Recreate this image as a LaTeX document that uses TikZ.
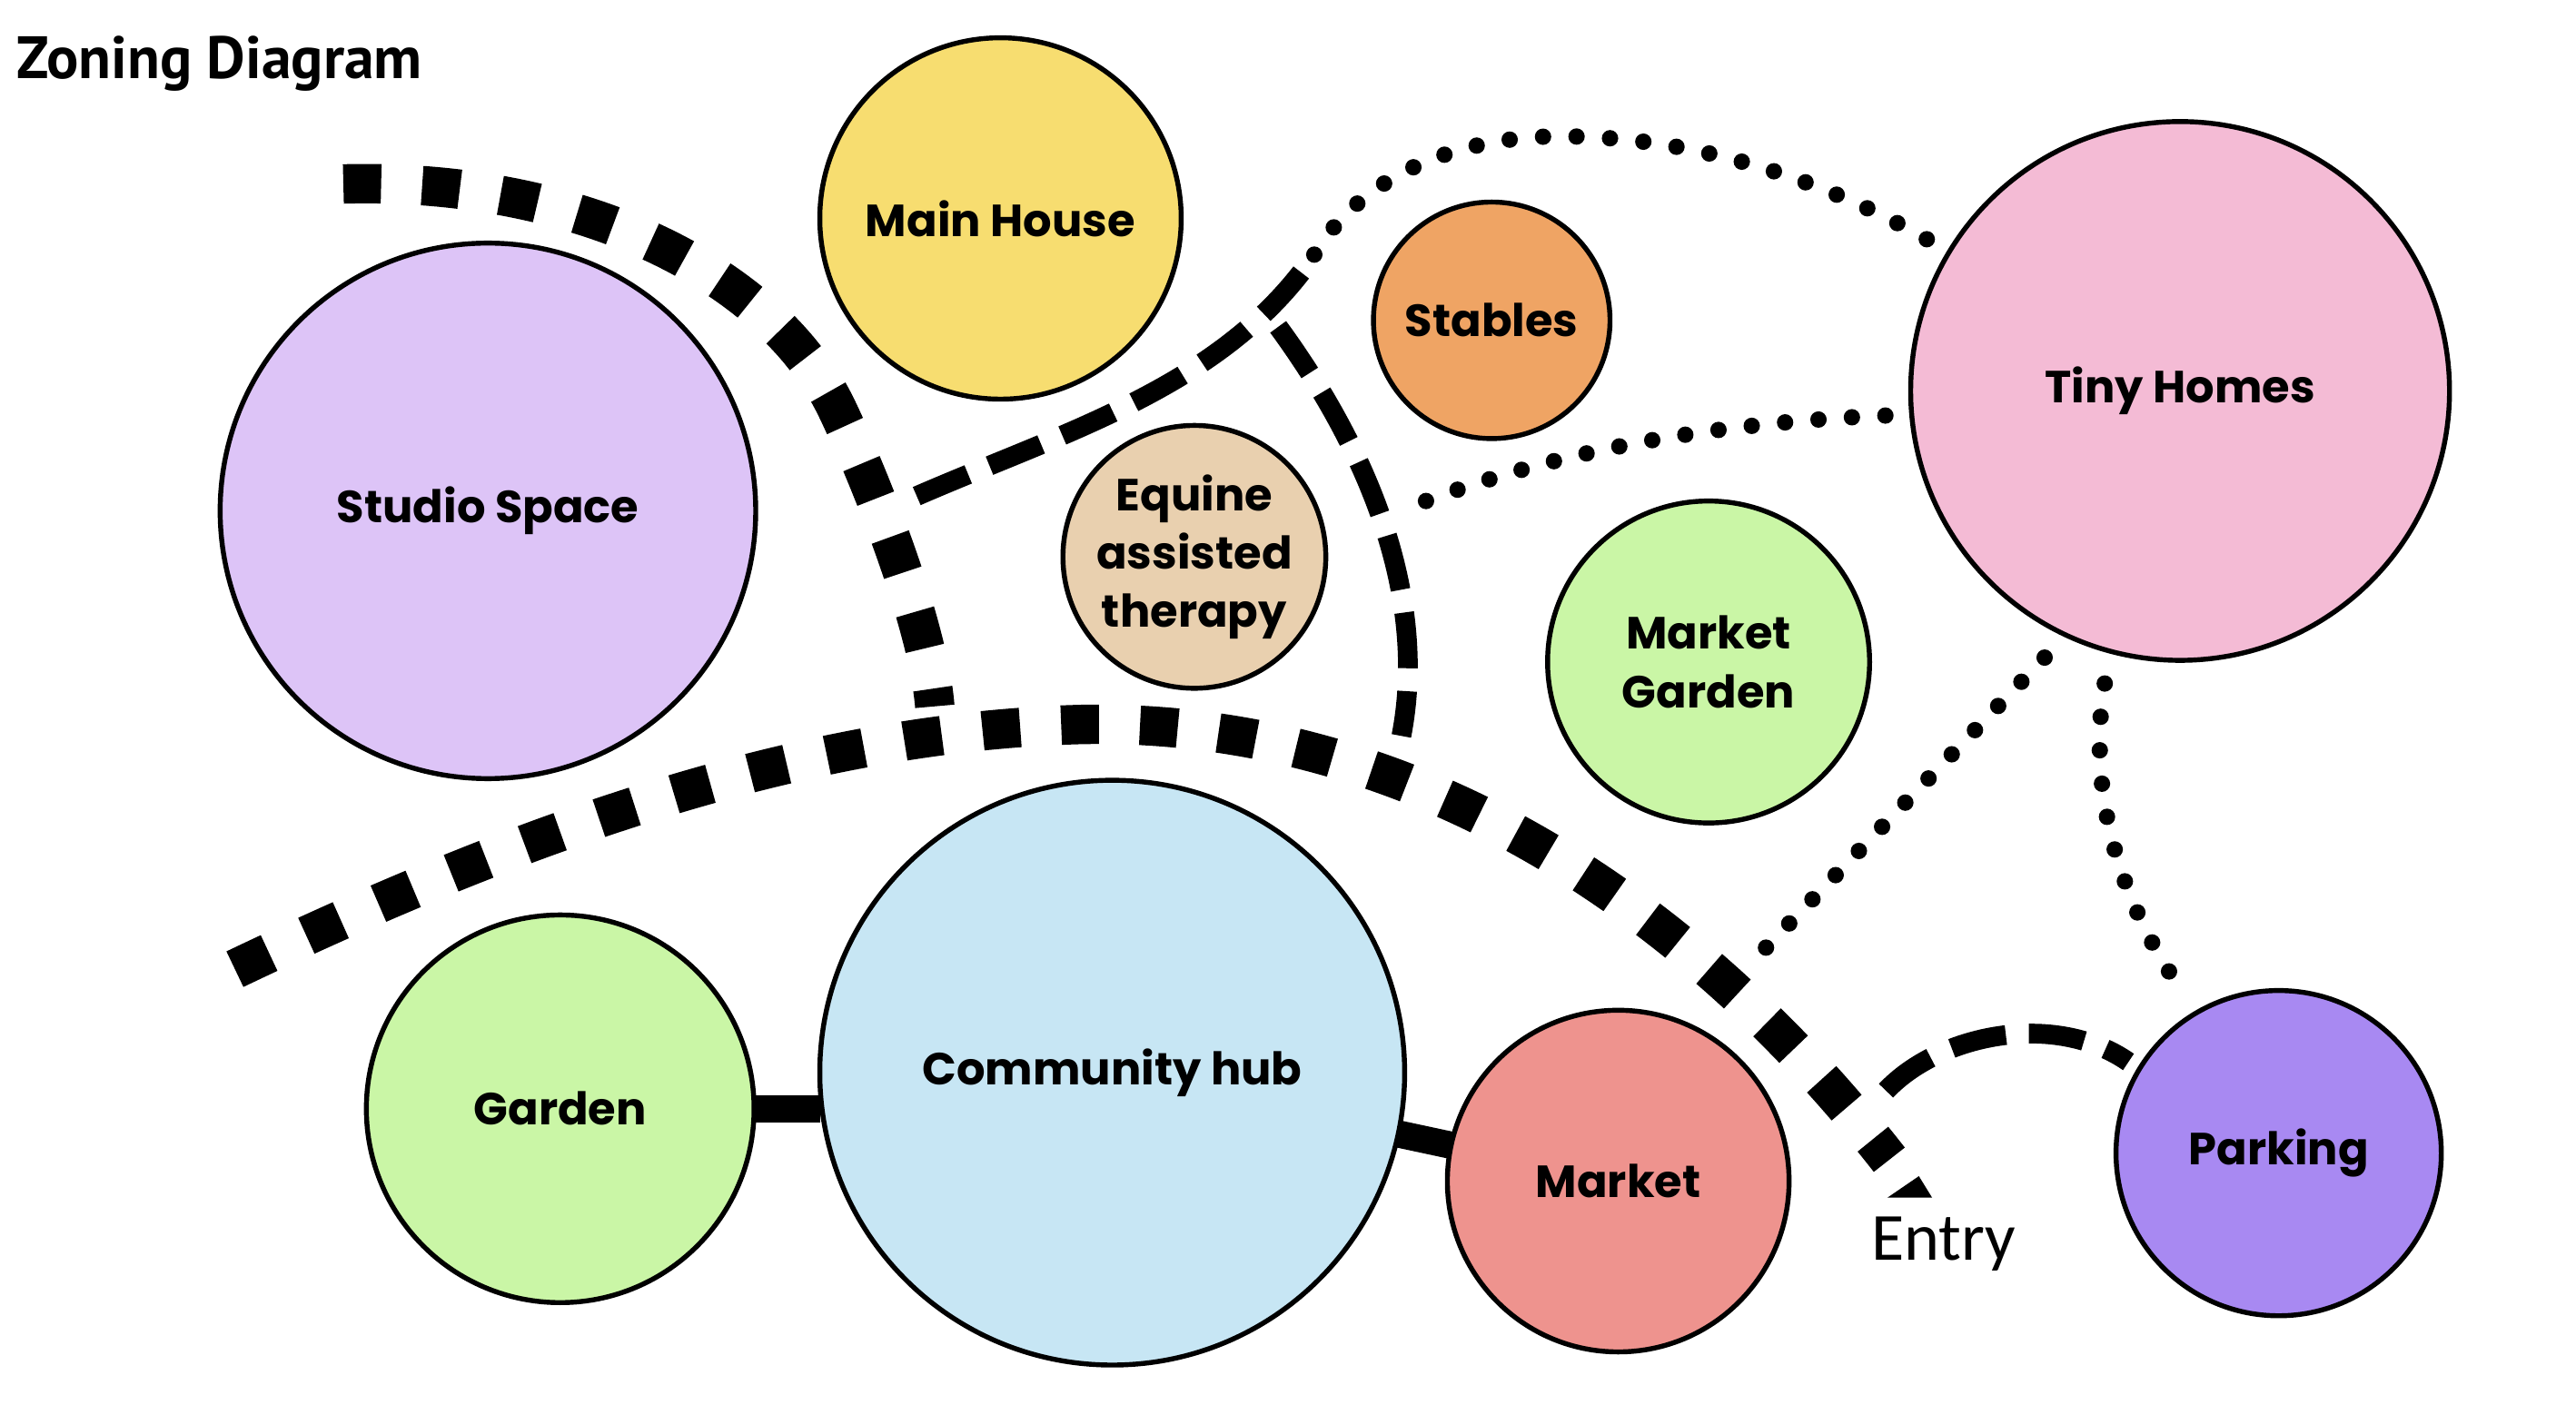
\documentclass[tikz,border=0pt]{standalone}
\usepackage{fontspec}
\newfontfamily\titlefont{PT Sans}
\newfontfamily\zonefont{Poppins}
\newfontfamily\entryfont{Carlito}
\definecolor{studioLilac}{RGB}{221,196,247}
\definecolor{houseYellow}{RGB}{247,221,112}
\definecolor{stableOrange}{RGB}{239,164,100}
\definecolor{tinyPink}{RGB}{244,187,213}
\definecolor{equineTan}{RGB}{233,208,175}
\definecolor{gardenGreen}{RGB}{202,246,166}
\definecolor{hubBlue}{RGB}{199,230,244}
\definecolor{marketRed}{RGB}{238,147,142}
\definecolor{parkPurple}{RGB}{168,137,242}
\usetikzlibrary{calc}

\begin{document}
\begin{tikzpicture}[
      x=0.5pt, y=-0.5pt,
      zone/.style={circle, draw=black, line width=1.5pt, inner sep=0pt, outer sep=0pt, align=center,
        font=\zonefont\bfseries\fontsize{13.7}{17.75}\selectfont},
      zoneline/.style={line width=12pt, dash pattern=on 11.5pt off 12.5pt},
      trail/.style={line width=6pt, dash pattern=on 17pt off 7pt},
      dotlink/.style={line width=5pt, line cap=round, dash pattern=on 0pt off 10.2pt},
      joint/.style={line width=8.3pt}
    ]
      \useasboundingbox (0,0) rectangle (1568,855);

      \node[anchor=base west, font=\titlefont\bfseries\fontsize{18.2}{21}\selectfont] (title) at (3,48) {Zoning Diagram};

      % zones
      \node[zone, fill=studioLilac, minimum size=163pt] (studio) at (297,311) {Studio Space};
      \node[zone, fill=houseYellow, minimum size=110pt] (house) at (609,133) {Main House};
      \node[zone, fill=stableOrange, minimum size=72pt] (stables) at (908,195) {Stables};
      \node[zone, fill=tinyPink, minimum size=164pt] (tiny) at (1327,238) {Tiny Homes};
      \node[zone, fill=equineTan, minimum size=80pt] (equine) at (727,339) {Equine\\assisted\\therapy};
      \node[zone, fill=gardenGreen, minimum size=98pt] (mgarden) at (1040,403) {Market\\Garden};
      \node[zone, fill=gardenGreen, minimum size=118pt] (garden) at (341,675) {Garden};
      \node[zone, fill=hubBlue, minimum size=178pt] (hub) at (677,653) {Community hub};
      \node[zone, fill=marketRed, minimum size=104pt] (market) at (985,719) {Market};
      \node[zone, fill=parkPurple, minimum size=99pt] (parking) at (1387,702) {Parking};

      \node[anchor=base west, font=\entryfont\fontsize{20.5}{24}\selectfont] (entry) at (1132,767) {Entry};

      \coordinate (forkTop) at (800,155);
      \coordinate (forkMid) at (778,199);
      \coordinate (edgeWest) at (558,302);
      \coordinate (edgeSouth) at (853,448);
      \coordinate (stableLane) at (868,305);
      \coordinate (entryGate) at (1148,664);
      \coordinate (hubEdge) at (1071,581);

      % zone boundaries
      \draw[zoneline] (209,112) .. controls (350,108) and (470,165) .. (510,250)
        .. controls (530,292) and (565,380) .. (569,430);
      \draw[zoneline] (143,590) .. controls (300,515) and (480,445) .. (660,441)
        .. controls (850,438) and (1020,540) .. (1150,706);
      \fill (1149,729) -- (1176,729) -- (1168,716) -- cycle;

      % links
      \draw[joint] (garden.east) -- (garden.east -| hub.west);
      \draw[joint] (hub) -- (market);
      \draw[trail] (edgeWest) .. controls (650,262) and (745,235) .. (forkTop);
      \draw[trail] (forkMid) .. controls (830,270) and (870,360) .. (edgeSouth);
      \draw[trail, shorten >=4pt] (entryGate) .. controls (1180,630) and (1250,615) .. (parking.149);
      \draw[dotlink, shorten >=7pt] (forkTop) .. controls (830,105) and (890,83) .. (950,83)
        .. controls (1040,83) and (1120,115) .. (tiny.149);
      \draw[dotlink, shorten >=7.5pt] (stableLane) .. controls (940,278) and (1030,258) .. (tiny.185);
      \draw[dotlink, shorten <=9.5pt] (tiny.245) -- (hubEdge);
      \draw[dotlink, shorten <=10pt, shorten >=7pt] (tiny.255) .. controls (1270,480) and (1290,550) .. (parking.120);
    \end{tikzpicture}
\end{document}
